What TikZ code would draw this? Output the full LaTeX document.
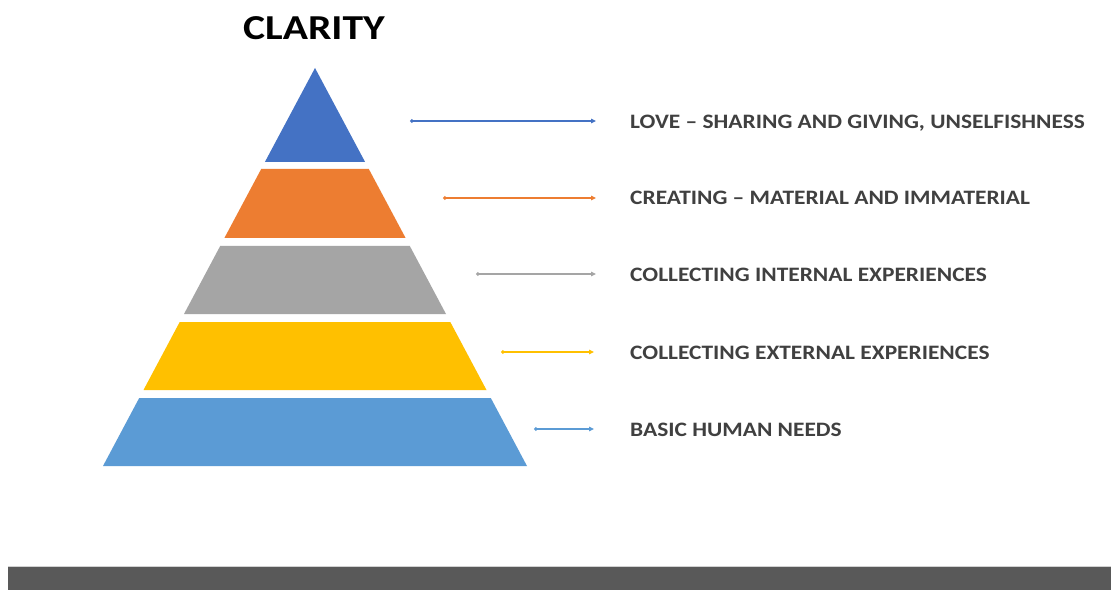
\documentclass[tikz,border=0pt]{standalone}
\usepackage{fontspec}
\setmainfont{Carlito}
\usetikzlibrary{arrows.meta}
\definecolor{cblue}{HTML}{4472C4}
\definecolor{corange}{HTML}{ED7D31}
\definecolor{cgray}{HTML}{A5A5A5}
\definecolor{cyellow}{HTML}{FFC000}
\definecolor{clblue}{HTML}{5B9BD5}
\definecolor{ctext}{HTML}{404040}
\definecolor{cbar}{HTML}{595959}
\newcommand{\wide}[1]{\scalebox{1.142}[1]{#1}}
\tikzset{
  layer/.style={fill=#1, draw=none},
  lbl/.style={anchor=base west, inner sep=0pt, text=ctext, font=\fontsize{20.5bp}{24bp}\selectfont\bfseries},
  conn/.style={draw=#1, line width=1.1bp, {Circle[length=3.6bp]}-{Triangle[length=5bp,width=4.5bp]}}
}
\begin{document}
\begin{tikzpicture}[x=1bp,y=-1bp]
\useasboundingbox (0,0) rectangle (1111,590);
\fill[white] (0,0) rectangle (1111,590);
% title
\node[inner sep=0pt, anchor=base, font=\fontsize{35bp}{40bp}\selectfont\bfseries] (title) at (314,39.5) {\scalebox{1.19}[1]{CLARITY}};
% pyramid layers
\path[layer=cblue]   (315,68) -- (365.1,162) -- (264.9,162) -- cycle;
\path[layer=corange] (261.2,169) -- (368.8,169) -- (405.6,238) -- (224.4,238) -- cycle;
\path[layer=cgray]   (220.2,246) -- (409.8,246) -- (446,314) -- (184,314) -- cycle;
\path[layer=cyellow] (179.7,322) -- (450.3,322) -- (486.5,390) -- (143.5,390) -- cycle;
\path[layer=clblue]  (139.2,398) -- (490.8,398) -- (527,466) -- (103,466) -- cycle;
% labels
\node[lbl] (t1) at (630,128.3) {\wide{LOVE – SHARING AND GIVING, UNSELFISHNESS}};
\node[lbl] (t2) at (630,205) {\wide{CREATING – MATERIAL AND IMMATERIAL}};
\node[lbl] (t3) at (630,281.3) {\wide{COLLECTING INTERNAL EXPERIENCES}};
\node[lbl] (t4) at (630,359.3) {\wide{COLLECTING EXTERNAL EXPERIENCES}};
\node[lbl] (t5) at (630,436) {\wide{BASIC HUMAN NEEDS}};
% connectors
\coordinate (s1) at (410,121); \coordinate (e1) at (596,121);
\coordinate (s2) at (443,198); \coordinate (e2) at (596,198);
\coordinate (s3) at (476,274); \coordinate (e3) at (596,274);
\coordinate (s4) at (501,352); \coordinate (e4) at (594,352);
\coordinate (s5) at (534,429); \coordinate (e5) at (594,429);
\draw[conn=cblue]   (s1) -- (e1);
\draw[conn=corange] (s2) -- (e2);
\draw[conn=cgray]   (s3) -- (e3);
\draw[conn=cyellow] (s4) -- (e4);
\draw[conn=clblue]  (s5) -- (e5);
% bottom bar
\fill[cbar] (8,566) rectangle (1111,590);
\draw[line width=1bp, color=black!18] (8,566) -- (1111,566);
\end{tikzpicture}
\end{document}
